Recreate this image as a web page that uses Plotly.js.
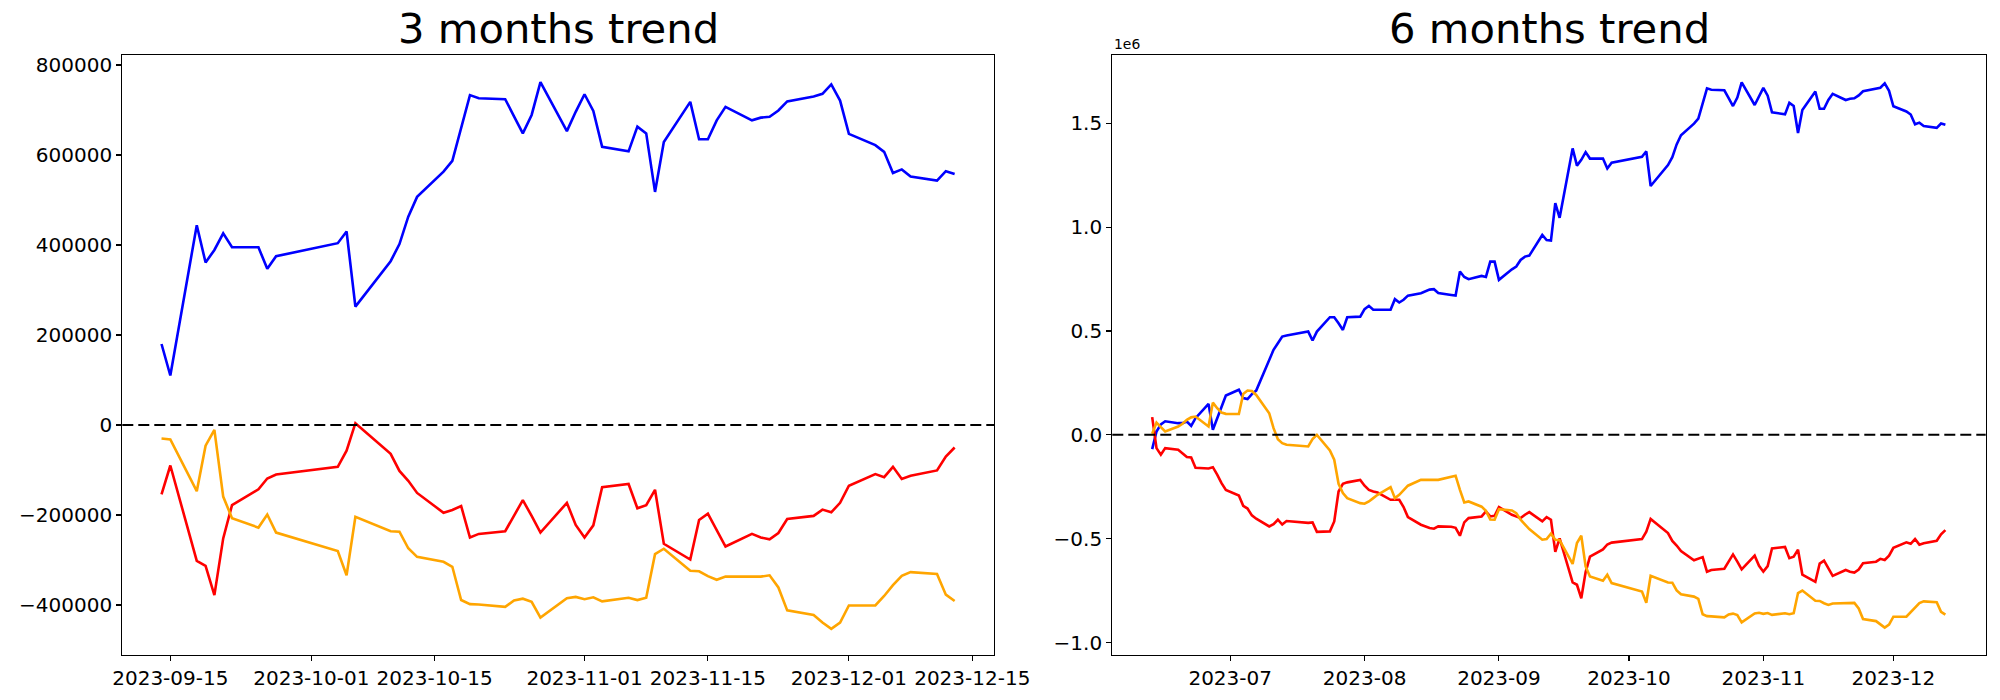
<!DOCTYPE html>
<html>
<head>
<meta charset="utf-8">
<script src="https://cdn.plot.ly/plotly-3.0.1.min.js"></script>
<style>html,body{margin:0;padding:0;background:#fff}#chart{width:2000px;height:700px}</style>
</head>
<body>
<div id="chart"></div>
<script>
// ---------- 3 months trend ----------
const L_dates = ["2023-09-14","2023-09-15","2023-09-18","2023-09-19","2023-09-20","2023-09-21","2023-09-22","2023-09-25","2023-09-26","2023-09-27",
"2023-10-04","2023-10-05","2023-10-06","2023-10-10","2023-10-11","2023-10-12","2023-10-13","2023-10-16","2023-10-17","2023-10-18","2023-10-19","2023-10-20","2023-10-23","2023-10-24","2023-10-25","2023-10-26","2023-10-27","2023-10-30","2023-10-31",
"2023-11-01","2023-11-02","2023-11-03","2023-11-06","2023-11-07","2023-11-08","2023-11-09","2023-11-10","2023-11-13","2023-11-14","2023-11-15","2023-11-16","2023-11-17","2023-11-20","2023-11-21","2023-11-22","2023-11-23","2023-11-24","2023-11-27","2023-11-28","2023-11-29","2023-11-30",
"2023-12-01","2023-12-04","2023-12-05","2023-12-06","2023-12-07","2023-12-08","2023-12-11","2023-12-12","2023-12-13"];
const L_blue = [180000,110000,444000,361000,389000,426000,395000,395000,347000,375000,
404000,430000,263000,364000,402000,463000,507000,563000,587000,660000,733000,726000,724000,686000,648000,689000,762000,653000,696000,
735000,698000,618000,608000,663000,648000,518000,629000,718000,635000,635000,677000,707000,677000,683000,685000,699000,719000,730000,736000,757000,721000,
647000,622000,607000,560000,568000,552000,543000,564000,558000];
const L_red = [-154000,-90000,-302000,-313000,-378000,-252000,-178000,-143000,-119000,-110000,
-93000,-57000,4000,-64000,-102000,-124000,-151000,-195000,-189000,-180000,-250000,-242000,-236000,-201000,-167000,-202000,-239000,-173000,-222000,
-250000,-223000,-138000,-131000,-185000,-178000,-144000,-264000,-299000,-211000,-197000,-234000,-270000,-242000,-250000,-254000,-240000,-209000,-202000,-188000,-194000,-173000,
-135000,-109000,-116000,-93000,-120000,-113000,-101000,-70000,-50000];
const L_orange = [-30000,-32000,-147000,-46000,-11000,-159000,-207000,-228000,-199000,-239000,
-280000,-334000,-204000,-236000,-237000,-274000,-293000,-304000,-315000,-389000,-398000,-399000,-404000,-390000,-386000,-393000,-428000,-385000,-382000,
-387000,-383000,-392000,-384000,-389000,-384000,-287000,-275000,-324000,-325000,-336000,-344000,-337000,-337000,-337000,-334000,-361000,-412000,-422000,-439000,-453000,-439000,
-401000,-401000,-380000,-356000,-335000,-327000,-331000,-377000,-391000];

// ---------- 6 months trend ----------
const R_dates = ["2023-06-13","2023-06-14","2023-06-15","2023-06-16","2023-06-19","2023-06-20","2023-06-21","2023-06-22","2023-06-23","2023-06-26","2023-06-27","2023-06-28","2023-06-29","2023-06-30",
"2023-07-03","2023-07-04","2023-07-05","2023-07-06","2023-07-07","2023-07-10","2023-07-11","2023-07-12","2023-07-13","2023-07-14","2023-07-17","2023-07-18","2023-07-19","2023-07-20","2023-07-21","2023-07-24","2023-07-25","2023-07-26","2023-07-27","2023-07-28","2023-07-31",
"2023-08-01","2023-08-02","2023-08-03","2023-08-04","2023-08-07","2023-08-08","2023-08-09","2023-08-10","2023-08-11","2023-08-14","2023-08-16","2023-08-17","2023-08-18","2023-08-21","2023-08-22","2023-08-23","2023-08-24","2023-08-25","2023-08-28","2023-08-29","2023-08-30","2023-08-31",
"2023-09-01","2023-09-04","2023-09-05","2023-09-06","2023-09-07","2023-09-08","2023-09-11","2023-09-12","2023-09-13",
"2023-09-14","2023-09-15","2023-09-18","2023-09-19","2023-09-20","2023-09-21","2023-09-22","2023-09-25","2023-09-26","2023-09-27",
"2023-10-04","2023-10-05","2023-10-06","2023-10-10","2023-10-11","2023-10-12","2023-10-13","2023-10-16","2023-10-17","2023-10-18","2023-10-19","2023-10-20","2023-10-23","2023-10-24","2023-10-25","2023-10-26","2023-10-27","2023-10-30","2023-10-31",
"2023-11-01","2023-11-02","2023-11-03","2023-11-06","2023-11-07","2023-11-08","2023-11-09","2023-11-10","2023-11-13","2023-11-14","2023-11-15","2023-11-16","2023-11-17","2023-11-20","2023-11-21","2023-11-22","2023-11-23","2023-11-24","2023-11-27","2023-11-28","2023-11-29","2023-11-30",
"2023-12-01","2023-12-04","2023-12-05","2023-12-06","2023-12-07","2023-12-08","2023-12-11","2023-12-12","2023-12-13"];
const R_blue = [-69000,16000,50000,65000,56000,56000,64000,43000,80000,149000,24000,82000,136000,189000,
217000,177000,172000,196000,213000,361000,409000,441000,473000,478000,489000,494000,497000,454000,497000,566000,566000,537000,505000,566000,569000,
605000,621000,602000,602000,602000,653000,637000,650000,670000,682000,699000,701000,683000,673000,670000,786000,760000,749000,765000,760000,834000,834000,
746000,797000,810000,842000,858000,863000,962000,938000,935000,
1115000,1045000,1379000,1296000,1324000,1361000,1330000,1330000,1282000,1310000,
1339000,1365000,1198000,1299000,1337000,1398000,1442000,1498000,1522000,1595000,1668000,1661000,1659000,1621000,1583000,1624000,1697000,1588000,1631000,
1670000,1633000,1553000,1543000,1598000,1583000,1453000,1564000,1653000,1570000,1570000,1612000,1642000,1612000,1618000,1620000,1634000,1654000,1665000,1671000,1692000,1656000,
1582000,1557000,1542000,1495000,1503000,1487000,1478000,1499000,1493000];
const R_red = [85000,-64000,-96000,-64000,-72000,-88000,-107000,-109000,-159000,-162000,-156000,-192000,-233000,-265000,
-292000,-342000,-355000,-388000,-404000,-441000,-430000,-409000,-432000,-415000,-420000,-422000,-424000,-422000,-467000,-465000,-417000,-273000,-236000,-229000,-217000,
-245000,-265000,-273000,-278000,-313000,-313000,-313000,-348000,-396000,-433000,-449000,-452000,-441000,-443000,-448000,-486000,-422000,-401000,-393000,-369000,-393000,-390000,
-348000,-385000,-393000,-401000,-385000,-372000,-417000,-396000,-409000,
-563000,-499000,-711000,-722000,-787000,-661000,-587000,-552000,-528000,-519000,
-502000,-466000,-405000,-473000,-511000,-533000,-560000,-604000,-598000,-589000,-659000,-651000,-645000,-610000,-576000,-611000,-648000,-582000,-631000,
-659000,-632000,-547000,-540000,-594000,-587000,-553000,-673000,-708000,-620000,-606000,-643000,-679000,-651000,-659000,-663000,-649000,-618000,-611000,-597000,-603000,-582000,
-544000,-518000,-525000,-502000,-529000,-522000,-510000,-479000,-459000];
const R_orange = [5000,59000,37000,16000,40000,53000,72000,84000,88000,40000,155000,128000,107000,101000,
100000,197000,213000,211000,192000,104000,32000,-21000,-40000,-48000,-53000,-56000,-56000,-21000,0,-75000,-120000,-236000,-280000,-305000,-329000,
-332000,-321000,-305000,-289000,-252000,-305000,-289000,-265000,-245000,-217000,-219000,-217000,-217000,-204000,-197000,-265000,-326000,-321000,-346000,-366000,-408000,-409000,
-358000,-364000,-377000,-409000,-433000,-454000,-505000,-502000,-476000,
-505000,-507000,-622000,-521000,-486000,-634000,-682000,-703000,-674000,-714000,
-755000,-809000,-679000,-711000,-712000,-749000,-768000,-779000,-790000,-864000,-873000,-874000,-879000,-865000,-861000,-868000,-903000,-860000,-857000,
-862000,-858000,-867000,-859000,-864000,-859000,-762000,-750000,-799000,-800000,-811000,-819000,-812000,-812000,-812000,-809000,-836000,-887000,-897000,-914000,-928000,-914000,
-876000,-876000,-855000,-831000,-810000,-802000,-806000,-852000,-866000];

// ---------- tick labels ----------
const L_xtickvals = ["2023-09-15","2023-10-01","2023-10-15","2023-11-01","2023-11-15","2023-12-01","2023-12-15"];
const L_xticktext = ["2023-09-15","2023-10-01","2023-10-15","2023-11-01","2023-11-15","2023-12-01","2023-12-15"];
const L_ytickvals = [-400000,-200000,0,200000,400000,600000,800000];
const L_yticktext = ["\u2212400000","\u2212200000","0","200000","400000","600000","800000"];
const R_xtickvals = ["2023-07-01","2023-08-01","2023-09-01","2023-10-01","2023-11-01","2023-12-01"];
const R_xticktext = ["2023-07","2023-08","2023-09","2023-10","2023-11","2023-12"];
const R_ytickvals = [-1000000,-500000,0,500000,1000000,1500000];
const R_yticktext = ["\u22121.0","\u22120.5","0.0","0.5","1.0","1.5"];
const titles = ["3 months trend","6 months trend"];
const offsetText = "1e6";

const FONT = "DejaVu Sans, sans-serif";
const lw = 2.6;
function tr(x, y, color, xa, ya) {
  return {x: x, y: y, type: "scatter", mode: "lines", line: {color: color, width: lw}, xaxis: xa, yaxis: ya, hoverinfo: "skip"};
}
const data = [
  tr(L_dates, L_blue, "#0000ff", "x", "y"),
  tr(L_dates, L_red, "#ff0000", "x", "y"),
  tr(L_dates, L_orange, "#ffa500", "x", "y"),
  tr(R_dates, R_blue, "#0000ff", "x2", "y2"),
  tr(R_dates, R_red, "#ff0000", "x2", "y2"),
  tr(R_dates, R_orange, "#ffa500", "x2", "y2")
];
const axBase = {
  showline: true, mirror: true, linecolor: "#000", linewidth: 1.1,
  showgrid: false, zeroline: false, ticks: "outside", ticklen: 5, tickwidth: 1.1, tickcolor: "#000",
  tickfont: {family: FONT, size: 20, color: "#000"}, tickmode: "array", fixedrange: true
};
const yDom = [45/700, 645/700];
const layout = {
  width: 2000, height: 700, margin: {l: 0, r: 0, t: 0, b: 0},
  paper_bgcolor: "#fff", plot_bgcolor: "#fff", showlegend: false, hovermode: false,
  font: {family: FONT, color: "#000"},
  xaxis: Object.assign({}, axBase, {domain: [122.3/2000, 994.3/2000], type: "date",
    range: ["2023-09-09 13:12", "2023-12-17 12:00"], tickvals: L_xtickvals, ticktext: L_xticktext, anchor: "y"}),
  yaxis: Object.assign({}, axBase, {domain: yDom, range: [-511111, 822222],
    tickvals: L_ytickvals, ticktext: L_yticktext, anchor: "x"}),
  xaxis2: Object.assign({}, axBase, {domain: [1112.3/2000, 1985.7/2000], type: "date",
    range: ["2023-06-03 19:12", "2023-12-22 07:12"], tickvals: R_xtickvals, ticktext: R_xticktext, anchor: "y2"}),
  yaxis2: Object.assign({}, axBase, {domain: yDom, range: [-1060200, 1828700],
    tickvals: R_ytickvals, ticktext: R_yticktext, anchor: "x2"}),
  shapes: [
    {type: "line", xref: "x domain", yref: "y", x0: 0, x1: 1, y0: 0, y1: 0, layer: "above",
     line: {color: "#000", width: 2, dash: "11px,5px"}},
    {type: "line", xref: "x2 domain", yref: "y2", x0: 0, x1: 1, y0: 0, y1: 0, layer: "above",
     line: {color: "#000", width: 2, dash: "11px,5px"}}
  ],
  annotations: [
    {text: titles[0], xref: "paper", yref: "paper", x: (122.3+994.3)/2/2000, y: 645/700, xanchor: "center", yanchor: "bottom",
     showarrow: false, font: {family: FONT, size: 41.7, color: "#000"}},
    {text: titles[1], xref: "paper", yref: "paper", x: (1112.3+1985.7)/2/2000, y: 645/700, xanchor: "center", yanchor: "bottom",
     showarrow: false, font: {family: FONT, size: 41.7, color: "#000"}},
    {text: offsetText, xref: "paper", yref: "paper", x: 1112.3/2000, y: 646/700, xanchor: "left", yanchor: "bottom",
     showarrow: false, font: {family: FONT, size: 13.9, color: "#000"}}
  ]
};
Plotly.newPlot("chart", data, layout, {displayModeBar: false, staticPlot: true});
</script>
</body>
</html>
